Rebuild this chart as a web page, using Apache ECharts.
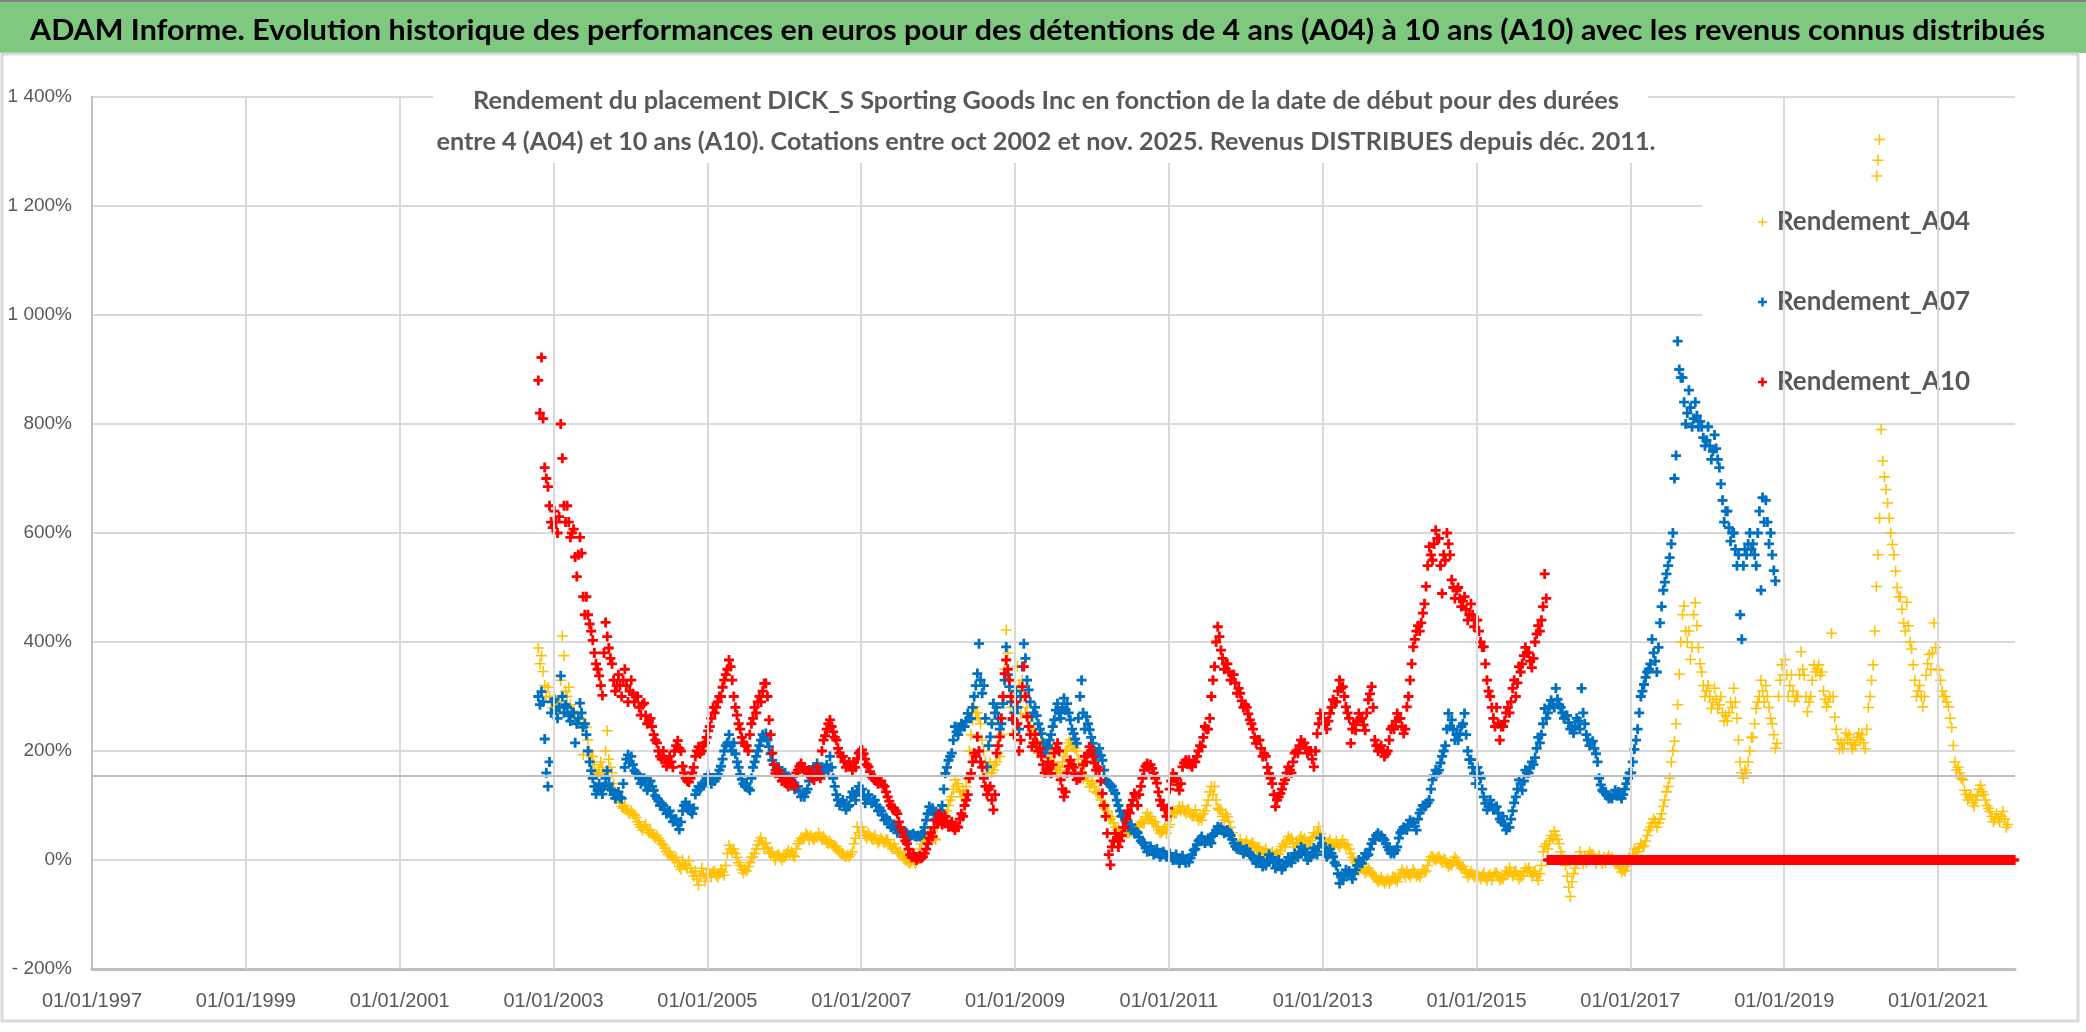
<!DOCTYPE html>
<html><head><meta charset="utf-8">
<script src="https://cdn.jsdelivr.net/npm/echarts@6/dist/echarts.min.js"></script>
<style>html,body{margin:0;padding:0;background:#fff}#c{width:2086px;height:1032px}</style>
</head><body><div id="c"></div>
<script>
// ---------- DATA ----------
// Weekly readings (4 per month) starting Oct 2002, in %. null = no quotation yet.
const FIRST_MONTH = [2002, 10];
const seriesNames = ['Rendement_A04', 'Rendement_A07', 'Rendement_A10'];

const A04 = [
  null,null,389,360, 375,346,320,300, 317,300,290,280,
  300,285,273,290, 330,411,375,310, 300,317,285,273, 273,260,250,262, 260,244,193,250, 244,220,200,190, 190,175,160,157, 165,180,170,160, 200,237,185,170, 160,140,125,113, 113,105,98,95, 100,92,88,85,
  90,85,82,78, 70,65,60,55, 62,65,55,50, 55,48,44,41, 45,40,35,30, 27,22,15,10, 15,8,4,0, 5,-5,-12,-17, 0,-8,-10,-15, -2,-15,-22,-30, -20,-35,-46,-30, -15,-25,-39,-28,
  -17,-25,-31,-22, -20,-28,-31,-25, -17,-22,-28,-10, 12,27,20,15, 20,12,5,-5, -10,-18,-24,-17, -20,-12,-5,5, 5,12,20,28, 35,41,30,20, 31,22,15,12, 15,5,0,8, 10,5,0,6,
  6,12,18,10, 15,8,6,20, 30,35,40,38, 40,49,45,37, 45,40,37,42, 42,49,43,37, 43,38,32,30, 35,30,26,24, 25,18,14,12, 12,8,6,9, 6,10,15,30, 40,61,50,45,
  61,52,45,40, 49,44,40,37, 45,38,31,36, 40,35,31,37, 37,30,25,20, 30,22,15,12, 15,8,3,0, 0,-4,-6,-2, 0,-6,-3,5, 20,30,40,37, 42,49,40,37, 45,40,37,60,
  73,80,92,85, 80,90,100,110, 116,130,147,135, 140,125,116,128, 120,135,150,200, 230,257,281,270, 270,260,250,220, 200,180,159,170, 180,160,165,175, 180,196,190,230, 300,350,422,380, 318,280,232,300,
  300,355,320,269, 330,300,269,280, 260,245,232,240, 232,215,196,205, 220,205,196,200, 208,190,180,170, 180,165,159,170, 165,180,190,200, 202,215,220,210, 210,205,200,185, 170,160,150,155, 153,145,134,140,
  145,135,125,122, 122,110,100,95, 100,90,80,75, 80,68,60,55, 55,52,49,50, 55,50,49,52, 52,55,49,55, 60,65,70,68, 67,80,86,75, 80,72,67,70, 61,55,49,52, 55,61,49,60,
  65,80,90,86, 86,92,98,90, 98,90,86,92, 92,85,80,82, 92,80,73,78, 73,85,90,100, 110,125,135,120, 135,110,95,92, 92,80,73,85, 80,70,60,50, 37,30,24,28, 37,30,24,30,
  35,28,24,30, 31,25,18,22, 24,15,10,12, 20,12,6,8, 15,8,6,12, 10,18,25,30, 24,35,43,38, 40,30,24,32, 30,38,43,36, 40,30,24,30, 35,42,50,45, 50,61,48,40,
  37,30,24,32, 37,28,24,30, 35,28,24,30, 37,30,24,28, 20,12,5,0, -5,-12,-20,-15, -12,-18,-24,-20, -15,-20,-24,-28, -31,-35,-40,-37, -31,-38,-43,-40, -35,-43,-38,-31, -31,-36,-40,-30,
  -25,-18,-24,-31, -20,-26,-31,-25, -18,-24,-30,-26, -31,-25,-18,-22, -20,-10,0,6, 6,2,0,4, 6,0,-5,2, 0,-6,-12,-8, -10,-2,5,0, -5,-10,-15,-12, -18,-24,-31,-26, -20,-26,-31,-28,
  -24,-30,-35,-30, -24,-32,-37,-30, -26,-37,-30,-24, -24,-30,-37,-33, -35,-28,-20,-25, -14,-22,-30,-25, -20,-28,-35,-30, -30,-22,-15,-20, -14,-22,-30,-25, -20,-30,-37,-25, -10,15,25,30, 20,35,45,40,
  53,45,38,30, 15,8,0,-10, -30,-50,-67,-40, -25,-15,-5,0, 15,5,-7,8, -5,8,15,10, 10,2,-7,0, 8,0,-7,5, -5,3,8,2, 5,-2,-7,-5, -7,-15,-22,-18, -20,-12,-7,5,
  5,12,20,15, 15,22,30,25, 25,35,45,55, 60,68,75,70, 60,68,75,85, 98,110,125,135, 150,180,200,218, 250,285,341,400, 450,466,420,400, 420,368,390,450, 472,430,390,360, 345,320,300,310,
  320,300,278,290, 315,295,278,285, 300,270,255,265, 255,270,290,280, 315,290,260,220, 180,160,150,165, 160,180,200,225, 225,250,278,290, 300,330,310,290, 320,300,280,260, 250,230,205,214, 300,330,358,340,
  368,340,300,320, 340,310,291,300, 300,340,382,350, 339,300,272,290, 300,330,358,345, 350,358,339,345, 310,295,281,290, 300,416,300,262, 240,220,204,215, 204,215,233,220, 230,215,204,212, 210,225,233,220,
  230,215,204,240, 280,300,330,358, 420,502,560,627, 790,732,703,680, 655,627,600,579, 560,530,500,483, 483,460,435,420, 473,430,400,387, 358,330,300,310, 320,300,281,300, 339,360,377,350, 380,435,390,350,
  348,330,310,300, 300,290,281,260, 243,210,180,165, 170,160,150,147, 128,120,110,115, 120,105,99,110, 118,130,137,125, 120,110,100,95, 89,80,70,75, 85,75,70,80, 89,75,60,65
];
// isolated high readings of A04 in March 2020
const A04_spikeDates = ['2020-03-14', '2020-03-20', '2020-03-27'];
const A04_spikeValues = [1255, 1284, 1322];

const A07 = [
  null,null,300,285, 309,290,222,160, 135,180,270,290,
  295,275,260,280, 338,300,270,285, 280,265,255,270, 270,215,250,260, 288,270,244,250, 230,200,180,164, 150,135,121,128, 140,130,121,135, 150,164,140,130, 128,120,113,118, 125,115,113,140, 170,185,193,180,
  190,175,164,160, 157,150,140,145, 150,138,128,135, 145,135,128,118, 113,108,100,104, 100,92,85,88, 90,80,70,75, 75,65,56,70, 90,100,106,95, 100,90,85,95, 120,128,135,130, 135,140,145,150,
  157,148,140,150, 145,150,157,165, 172,185,200,210, 215,230,210,200, 215,195,180,170, 157,148,140,135, 140,132,128,150, 170,180,190,200, 210,220,230,225, 232,220,208,195, 183,175,165,170, 170,160,153,158,
  160,152,147,150, 147,138,130,135, 135,125,116,122, 116,124,130,145, 159,165,170,168, 177,168,160,170, 160,168,175,165, 190,170,150,135, 120,110,100,105, 110,100,92,98, 100,115,125,120, 110,125,135,128,
  130,118,104,112, 120,110,104,108, 110,100,90,95, 90,82,73,78, 73,66,60,62, 65,58,50,55, 55,50,49,52, 49,45,43,46, 48,44,43,45, 43,46,49,60, 73,85,98,90, 95,85,75,82,
  80,90,100,130, 159,170,183,190, 196,220,245,235, 230,240,250,245, 245,255,269,260, 260,280,300,320, 342,397,330,306, 320,260,171,210, 226,250,287,270, 280,260,240,250, 287,330,391,340, 318,290,257,270,
  310,280,240,300, 355,397,370,330, 312,290,263,270, 280,265,250,240, 232,215,196,205, 210,220,230,245, 257,275,287,270, 260,280,297,275, 287,270,257,240, 232,222,214,260, 300,330,270,240, 263,250,239,225,
  214,200,190,195, 205,192,183,165, 147,142,140,138, 135,128,122,110, 100,90,80,82, 80,70,60,62, 65,55,49,52, 50,42,35,32, 31,22,15,18, 25,18,10,14, 20,12,6,10, 15,10,6,8,
  12,5,0,4, 10,2,-6,0, 8,0,-5,2, -4,4,10,18, 20,28,35,38, 43,36,31,35, 40,34,31,45, 49,55,61,56, 60,54,49,52, 55,50,45,38, 31,25,20,24, 25,18,12,15,
  20,14,10,8, 6,0,-6,-2, 5,-4,-12,-6, -10,0,10,2, 5,-5,-15,-10, 0,-10,-18,-12, -10,-3,5,0, -5,4,12,8, 5,15,24,18, 20,10,0,6, 5,14,22,16, 10,25,40,30,
  24,15,6,10, 20,12,6,-5, -10,-25,-43,-30, -37,-28,-18,-25, -20,-28,-35,-25, -18,-10,0,-5, -6,4,12,8, 10,20,30,38, 37,45,49,42, 45,40,37,30, 24,18,12,15, 12,18,24,40,
  50,55,60,57, 55,65,73,68, 70,62,55,75, 86,92,100,98, 100,105,110,130, 147,155,165,160, 165,178,190,200, 210,240,269,245, 257,240,220,230, 220,232,245,250, 269,230,200,184, 184,170,159,140,
  170,160,150,130, 116,104,92,98, 110,100,92,96, 98,86,75,70, 80,65,55,60, 60,75,90,105, 116,130,147,140, 128,145,165,160, 160,170,180,175, 188,205,225,215, 230,250,278,260, 270,282,293,285,
  280,315,295,285, 280,270,260,265, 265,252,240,245, 233,245,260,255, 240,315,270,250, 230,220,210,215, 218,205,195,180, 150,138,128,125, 125,118,113,115, 113,120,128,118, 125,118,113,120, 130,140,150,160,
  160,180,203,220, 240,270,300,310, 322,335,345,350, 360,405,380,365, 345,390,435,465, 495,510,525,540, 555,580,600,700, 742,952,900,885, 885,840,800,820, 862,830,795,810, 840,815,795,805, 795,775,760,770,
  795,760,735,750, 780,755,735,720, 690,660,620,640, 640,610,585,600, 600,570,540,560, 450,405,540,570, 560,580,600,570, 580,560,540,600, 640,495,665,620, 660,620,580,600, 560,531,512,null
];

const A10 = [
  null,null,880,820, 922,810,720,700, 685,650,620,610,
  640,620,600,630, 800,737,650,620, 650,620,592,600, 607,556,520,560, 592,563,483,450, 483,450,433,420, 403,380,360,350, 338,320,302,380, 436,410,389,370, 360,330,310,320, 340,320,300,330, 350,320,290,310,
  330,305,290,300, 300,280,266,285, 288,265,250,255, 260,245,230,220, 215,200,190,185, 200,185,172,178, 190,180,170,200, 210,219,205,200, 172,160,150,145, 143,150,160,170, 190,200,208,195, 200,210,215,225,
  237,245,260,280, 270,280,290,300, 300,317,330,340, 350,367,355,330, 300,280,266,250, 240,225,215,210, 210,200,230,250, 260,280,270,290, 300,290,310,324, 324,300,257,230, 196,175,159,165, 165,155,145,150,
  150,140,135,142, 145,138,135,160, 165,172,177,170, 170,162,159,165, 160,150,147,155, 171,160,150,200, 220,228,240,250, 257,245,235,225, 220,205,196,190, 190,180,170,175, 180,172,165,180, 170,185,196,200,
  202,195,185,175, 171,162,153,150, 150,145,140,142, 145,138,135,125, 116,108,100,95, 95,90,85,70, 60,52,43,35, 30,20,10,5, 12,5,0,3, 8,3,6,12, 20,30,40,50, 43,60,73,70,
  85,75,65,70, 80,70,61,65, 70,60,55,62, 60,75,85,80, 100,110,120,150, 159,180,196,190, 226,200,180,170, 150,135,120,130, 135,110,92,120, 196,210,226,260, 300,342,367,350, 330,300,260,230,
  290,250,200,220, 318,355,300,263, 245,230,208,215, 230,215,200,205, 190,175,160,165, 180,168,159,175, 196,205,214,200, 147,130,116,125, 160,172,183,175, 170,158,147,150, 150,160,175,190, 180,195,208,200,
  190,178,165,170, 165,145,122,100, 80,49,10,-9, 24,35,49,40, 24,35,45,60, 60,75,90,86, 100,110,122,118, 100,120,135,150, 165,172,177,170, 175,168,160,150, 141,125,110,100, 100,92,80,95,
  130,145,159,150, 150,138,128,140, 171,178,183,176, 183,175,171,180, 180,190,200,210, 208,225,245,240, 240,260,300,330, 355,400,428,410, 385,370,350,360, 360,345,330,340, 340,325,306,315, 306,292,280,285,
  280,268,257,250, 240,225,214,220, 220,205,190,195, 190,170,159,150, 140,120,98,110, 116,122,130,140, 147,160,171,165, 160,180,196,200, 196,210,220,212, 215,205,196,200, 200,185,171,200, 232,250,269,260,
  260,250,240,255, 269,280,294,290, 290,310,330,315, 318,300,281,270, 260,214,240,250, 238,255,269,260, 260,248,238,270, 294,305,318,280, 220,210,200,205, 210,198,190,195, 200,220,240,245, 240,255,269,260,
  260,245,232,240, 281,300,330,360, 391,405,420,430, 420,435,453,470, 502,540,575,560, 550,580,605,590, 590,540,489,560, 550,600,580,560, 514,500,480,495, 500,480,465,475, 483,460,440,450, 470,450,428,440,
  440,420,400,391, 391,360,330,310, 300,280,260,245, 280,250,220,245, 245,255,270,280, 270,290,315,330, 300,325,355,345, 360,375,390,380, 380,365,353,370, 400,415,430,420, 440,465,525,480
];
// A10 after Nov 2015: zero readings, 4 per month from Dec 2015 to Dec 2021
const A10_TAIL_START = [2015, 12];
const A10_tail = [
  0,0,0,0,
  0,0,0,0, 0,0,0,0, 0,0,0,0, 0,0,0,0, 0,0,0,0, 0,0,0,0, 0,0,0,0, 0,0,0,0, 0,0,0,0, 0,0,0,0, 0,0,0,0, 0,0,0,0,
  0,0,0,0, 0,0,0,0, 0,0,0,0, 0,0,0,0, 0,0,0,0, 0,0,0,0, 0,0,0,0, 0,0,0,0, 0,0,0,0, 0,0,0,0, 0,0,0,0, 0,0,0,0,
  0,0,0,0, 0,0,0,0, 0,0,0,0, 0,0,0,0, 0,0,0,0, 0,0,0,0, 0,0,0,0, 0,0,0,0, 0,0,0,0, 0,0,0,0, 0,0,0,0, 0,0,0,0,
  0,0,0,0, 0,0,0,0, 0,0,0,0, 0,0,0,0, 0,0,0,0, 0,0,0,0, 0,0,0,0, 0,0,0,0, 0,0,0,0, 0,0,0,0, 0,0,0,0, 0,0,0,0,
  0,0,0,0, 0,0,0,0, 0,0,0,0, 0,0,0,0, 0,0,0,0, 0,0,0,0, 0,0,0,0, 0,0,0,0, 0,0,0,0, 0,0,0,0, 0,0,0,0, 0,0,0,0,
  0,0,0,0, 0,0,0,0, 0,0,0,0, 0,0,0,0, 0,0,0,0, 0,0,0,0, 0,0,0,0, 0,0,0,0, 0,0,0,0, 0,0,0,0, 0,0,0,0, 0,0,0,0
];

const xTickYears = [1997, 1999, 2001, 2003, 2005, 2007, 2009, 2011, 2013, 2015, 2017, 2019, 2021];
const X_MIN_YEAR = 1997, X_MAX_YEAR = 2022;
const Y_MIN = -200, Y_MAX = 1400, Y_STEP = 200;
const refLevel = 155;   // grey horizontal reference line

const mainTitle = 'ADAM Informe. Evolution historique des performances en euros pour des détentions de 4 ans (A04) à 10 ans (A10) avec les revenus connus distribués';
const subTitle1 = 'Rendement du placement DICK_S Sporting Goods Inc en fonction de la date de début pour des durées';
const subTitle2 = 'entre 4 (A04) et 10 ans (A10). Cotations entre oct 2002 et nov. 2025. Revenus DISTRIBUES depuis déc. 2011.';

// ---------- helpers ----------
const colors = ['#FFC000', '#0070C0', '#FF0000'];
const PLUS_THIN = 'path://M4.3,0 L5.7,0 L5.7,4.3 L10,4.3 L10,5.7 L5.7,5.7 L5.7,10 L4.3,10 L4.3,5.7 L0,5.7 L0,4.3 L4.3,4.3 Z';
const PLUS_BOLD = 'path://M3.6,0 L6.4,0 L6.4,3.6 L10,3.6 L10,6.4 L6.4,6.4 L6.4,10 L3.6,10 L3.6,6.4 L0,6.4 L0,3.6 L3.6,3.6 Z';
const SANS = '"Liberation Sans",Arial,sans-serif';
const TITLE_FONT = 'bold 29px Lato, "Open Sans", sans-serif';
const SUB_FONT = 'bold 24px Lato, "Open Sans", sans-serif';
const PER_MONTH = 4;

function toPoints(arr, start) {
  const pts = [];
  for (let k = 0; k < arr.length; k++) {
    if (arr[k] === null) continue;
    const m = start[1] - 1 + Math.floor(k / PER_MONTH);
    const w = k % PER_MONTH;
    pts.push([start[0] + (m + (w + 0.5) / PER_MONTH) / 12 - X_MIN_YEAR, arr[k]]);
  }
  return pts;
}
function dateX(s) {
  const p = s.split('-').map(Number);
  return p[0] + (p[1] - 1) / 12 + (p[2] - 1) / 365 - X_MIN_YEAR;
}
function yFmt(v) {
  const a = Math.abs(v);
  const s = a >= 1000 ? Math.floor(a / 1000) + ' ' + String(a % 1000).padStart(3, '0') : String(a);
  return (v < 0 ? '- ' : '') + s + '%';
}
const measureCtx = document.createElement('canvas').getContext('2d');
function fitScale(text, font, targetWidth) {
  measureCtx.font = font;
  return targetWidth / measureCtx.measureText(text).width;
}

const a04pts = toPoints(A04, FIRST_MONTH).concat(A04_spikeDates.map((d, i) => [dateX(d), A04_spikeValues[i]]));
const a07pts = toPoints(A07, FIRST_MONTH);
const a10pts = toPoints(A10, FIRST_MONTH);
const a10tailPts = toPoints(A10_tail, A10_TAIL_START);

// never render progressively: every series is drawn in one pass, in series order
const scatterBase = {type: 'scatter', silent: true, large: false, clip: true,
  progressive: 1e7, progressiveThreshold: 1e7};

const chart = echarts.init(document.getElementById('c'), null, {renderer: 'canvas'});
chart.setOption({
  animation: false,
  backgroundColor: '#fff',
  progressive: 1e7,
  progressiveThreshold: 1e7,
  hoverLayerThreshold: 1e7,
  grid: {left: 92, right: 71, top: 97, bottom: 63, containLabel: false},
  xAxis: {
    type: 'value', min: 0, max: X_MAX_YEAR - X_MIN_YEAR, interval: 2,
    axisLine: {show: true, onZero: false, lineStyle: {color: '#BFBFBF', width: 3}},
    axisTick: {show: false},
    splitLine: {show: false},
    axisLabel: {
      showMaxLabel: false, margin: 22, color: '#595959', fontSize: 20, fontFamily: SANS,
      formatter: v => '01/01/' + (X_MIN_YEAR + v)
    }
  },
  yAxis: {
    type: 'value', min: Y_MIN, max: Y_MAX, interval: Y_STEP,
    axisLine: {show: true, lineStyle: {color: '#BFBFBF', width: 2}},
    axisTick: {show: false},
    splitLine: {show: true, lineStyle: {color: '#D9D9D9', width: 2}},
    axisLabel: {margin: 20, color: '#595959', fontSize: 19, fontFamily: SANS, formatter: yFmt}
  },
  legend: {
    orient: 'vertical', left: 1702, top: 182,
    padding: [25, 46, 13, 56], itemGap: 50, itemWidth: 9, itemHeight: 9,
    backgroundColor: '#fff',
    textStyle: {fontSize: 26, lineHeight: 30, color: '#595959', fontFamily: 'Lato, "Open Sans", sans-serif',
      fontWeight: 'bold', padding: [0, 0, 0, 5]},
    data: [
      {name: seriesNames[0], icon: PLUS_THIN},
      {name: seriesNames[1], icon: PLUS_BOLD},
      {name: seriesNames[2], icon: PLUS_BOLD}
    ]
  },
  graphic: [
    {type: 'rect', z: 10, silent: true, shape: {x: 0, y: 0, width: 2086, height: 53}, style: {fill: '#7FC87F'}},
    {type: 'rect', z: 10, silent: true, shape: {x: 0, y: 0, width: 2086, height: 2}, style: {fill: '#808080'}},
    {type: 'text', z: 11, silent: true, x: 30, y: 31, scaleX: fitScale(mainTitle, TITLE_FONT, 2015),
      style: {text: mainTitle, font: TITLE_FONT, fill: '#000', verticalAlign: 'middle', align: 'left'}},
    {type: 'rect', z: 10, silent: true, shape: {x: 2, y: 54, width: 2076, height: 967},
      style: {fill: 'none', stroke: '#D9D9D9', lineWidth: 3}},
    {type: 'rect', z: 10, silent: true, shape: {x: 433, y: 80, width: 1215, height: 83}, style: {fill: '#fff'}},
    {type: 'text', z: 11, silent: true, x: 1046, y: 101, scaleX: fitScale(subTitle1, SUB_FONT, 1146),
      style: {text: subTitle1, font: SUB_FONT, fill: '#595959', align: 'center', verticalAlign: 'middle'}},
    {type: 'text', z: 11, silent: true, x: 1046, y: 142, scaleX: fitScale(subTitle2, SUB_FONT, 1219),
      style: {text: subTitle2, font: SUB_FONT, fill: '#595959', align: 'center', verticalAlign: 'middle'}}
  ],
  series: [
    {
      type: 'scatter', name: '_grid', data: [], z: 1, silent: true,
      markLine: {
        silent: true, symbol: ['none', 'none'], label: {show: false},
        lineStyle: {color: '#D9D9D9', width: 2, type: 'solid'},
        emphasis: {disabled: true},
        data: xTickYears.slice(1).map(y => ({xAxis: y - X_MIN_YEAR}))
          .concat([{yAxis: refLevel, lineStyle: {color: '#BFBFBF', width: 2, type: 'solid'}}])
      }
    },
    Object.assign({}, scatterBase, {name: seriesNames[0], data: a04pts, symbol: PLUS_THIN, symbolSize: 11,
      itemStyle: {color: colors[0], opacity: 1}, z: 2}),
    Object.assign({}, scatterBase, {name: seriesNames[1], data: a07pts, symbol: PLUS_BOLD, symbolSize: 10,
      itemStyle: {color: colors[1], opacity: 1}, z: 3}),
    Object.assign({}, scatterBase, {name: seriesNames[2], data: a10pts, symbol: PLUS_BOLD, symbolSize: 10,
      itemStyle: {color: colors[2], opacity: 1}, z: 4}),
    Object.assign({}, scatterBase, {name: seriesNames[2], data: a10tailPts, symbol: PLUS_BOLD, symbolSize: 10,
      itemStyle: {color: colors[2], opacity: 1}, z: 5})
  ]
});
</script>
</body></html>
